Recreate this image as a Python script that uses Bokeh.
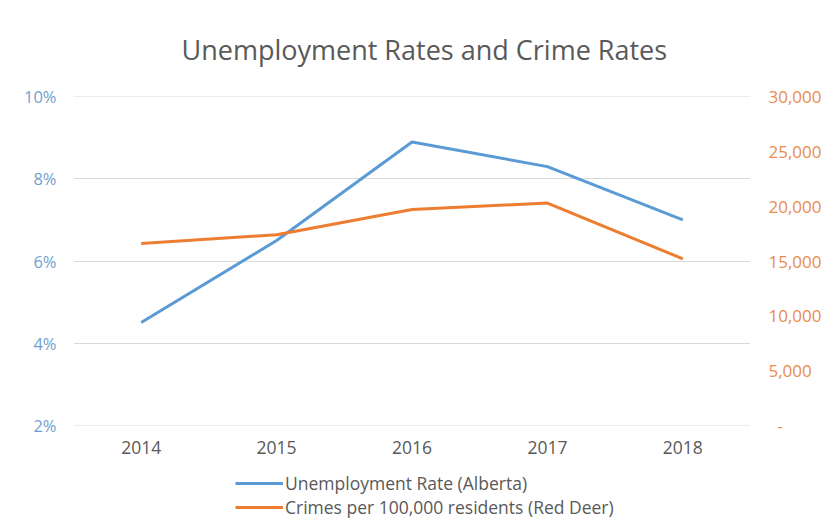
from bokeh.plotting import figure
from bokeh.layouts import column
from bokeh.models import (LinearAxis, Range1d, FactorRange, CustomJSTickFormatter,
                          FixedTicker, Legend, LegendItem)
from bokeh.embed import file_html
from bokeh.resources import INLINE

years = ["2014", "2015", "2016", "2017", "2018"]
unemployment = [4.5, 6.5, 8.9, 8.3, 7.0]          # percent
crime = [16600, 17400, 19700, 20300, 15200]       # crimes per 100,000 residents
left_ticks = [2, 4, 6, 8, 10]
right_ticks = [0, 5000, 10000, 15000, 20000, 25000, 30000]
series_names = ["Unemployment Rate (Alberta)", "Crimes per 100,000 residents (Red Deer)"]

BLUE = "#5B9BD5"
ORANGE = "#ED7D31"
GRAY = "#595959"
FONT = "Open Sans"

p = figure(x_range=FactorRange(*years), y_range=Range1d(1.99, 10.01),
           width=836, height=465, output_backend="svg", toolbar_location=None,
           min_border_left=73, min_border_right=86, min_border_top=95,
           min_border_bottom=40)
p.outline_line_color = None
p.background_fill_color = "white"
p.border_fill_color = "white"

p.title.text = "Unemployment Rates and Crime Rates"
p.title.align = "left"
p.title.text_font = FONT
p.title.text_font_size = "27px"
p.title.text_font_style = "normal"
p.title.text_color = GRAY
p.title.standoff = 57
p.title.offset = 108

p.xgrid.grid_line_color = None
p.ygrid.ticker = FixedTicker(ticks=left_ticks)
p.ygrid.grid_line_color = "#d9d9d9"
p.ygrid.grid_line_width = 1

# left axis
p.yaxis.ticker = FixedTicker(ticks=left_ticks)
p.yaxis.formatter = CustomJSTickFormatter(code="return tick + '%';")
p.yaxis.axis_line_color = None
p.yaxis.major_tick_line_color = None
p.yaxis.minor_tick_line_color = None
p.yaxis.major_tick_in = 0
p.yaxis.major_tick_out = 0
p.yaxis.major_label_text_color = "#6f9fcf"
p.yaxis.major_label_text_font = FONT
p.yaxis.major_label_text_font_size = "16.5px"
p.yaxis.major_label_standoff = 17

# x axis
p.xaxis.axis_line_color = None
p.xaxis.major_tick_line_color = None
p.xaxis.minor_tick_line_color = None
p.xaxis.major_tick_in = 0
p.xaxis.major_tick_out = 0
p.xaxis.major_label_text_color = GRAY
p.xaxis.major_label_text_font = FONT
p.xaxis.major_label_text_font_size = "17.5px"
p.xaxis.major_label_standoff = 15

# right axis
p.extra_y_ranges = {"crime": Range1d(-37.5, 30037.5)}
ra = LinearAxis(y_range_name="crime", ticker=FixedTicker(ticks=right_ticks))
ra.formatter = CustomJSTickFormatter(
    code="return tick == 0 ? '\u00a0\u00a0-' : tick.toLocaleString('en-US');")
ra.axis_line_color = None
ra.major_tick_line_color = None
ra.minor_tick_line_color = None
ra.major_tick_in = 0
ra.major_tick_out = 0
ra.major_label_text_color = "#e98c4e"
ra.major_label_text_font = FONT
ra.major_label_text_font_size = "17px"
ra.major_label_standoff = 18
p.add_layout(ra, "right")

p.line(years, unemployment, line_color=BLUE, line_width=3, line_join="round")
p.line(years, crime, line_color=ORANGE, line_width=3, line_join="round",
       y_range_name="crime")

# legend strip below the chart (its frame is aligned with the chart's frame)
lf = figure(width=836, height=58, output_backend="svg", toolbar_location=None,
            x_range=Range1d(0, 1), y_range=Range1d(0, 1),
            x_axis_type=None, y_axis_type=None, min_border=0)
lf.outline_line_color = None
lf.grid.grid_line_color = None
nan = float("nan")
lr1 = lf.line(x=[nan], y=[nan], line_color=BLUE, line_width=3)
lr2 = lf.line(x=[nan], y=[nan], line_color=ORANGE, line_width=3)
legend = Legend(items=[LegendItem(label=series_names[0], renderers=[lr1]),
                       LegendItem(label=series_names[1], renderers=[lr2])],
                orientation="vertical", location=(162, 4),
                border_line_color=None, background_fill_alpha=0,
                glyph_width=48, glyph_height=20, label_standoff=2, spacing=0,
                padding=0, margin=0,
                label_text_font=FONT, label_text_font_size="17.5px",
                label_text_color=GRAY)
lf.add_layout(legend, "center")

layout = column(p, lf, spacing=0)
open("out.html", "w").write(file_html(layout, INLINE))
